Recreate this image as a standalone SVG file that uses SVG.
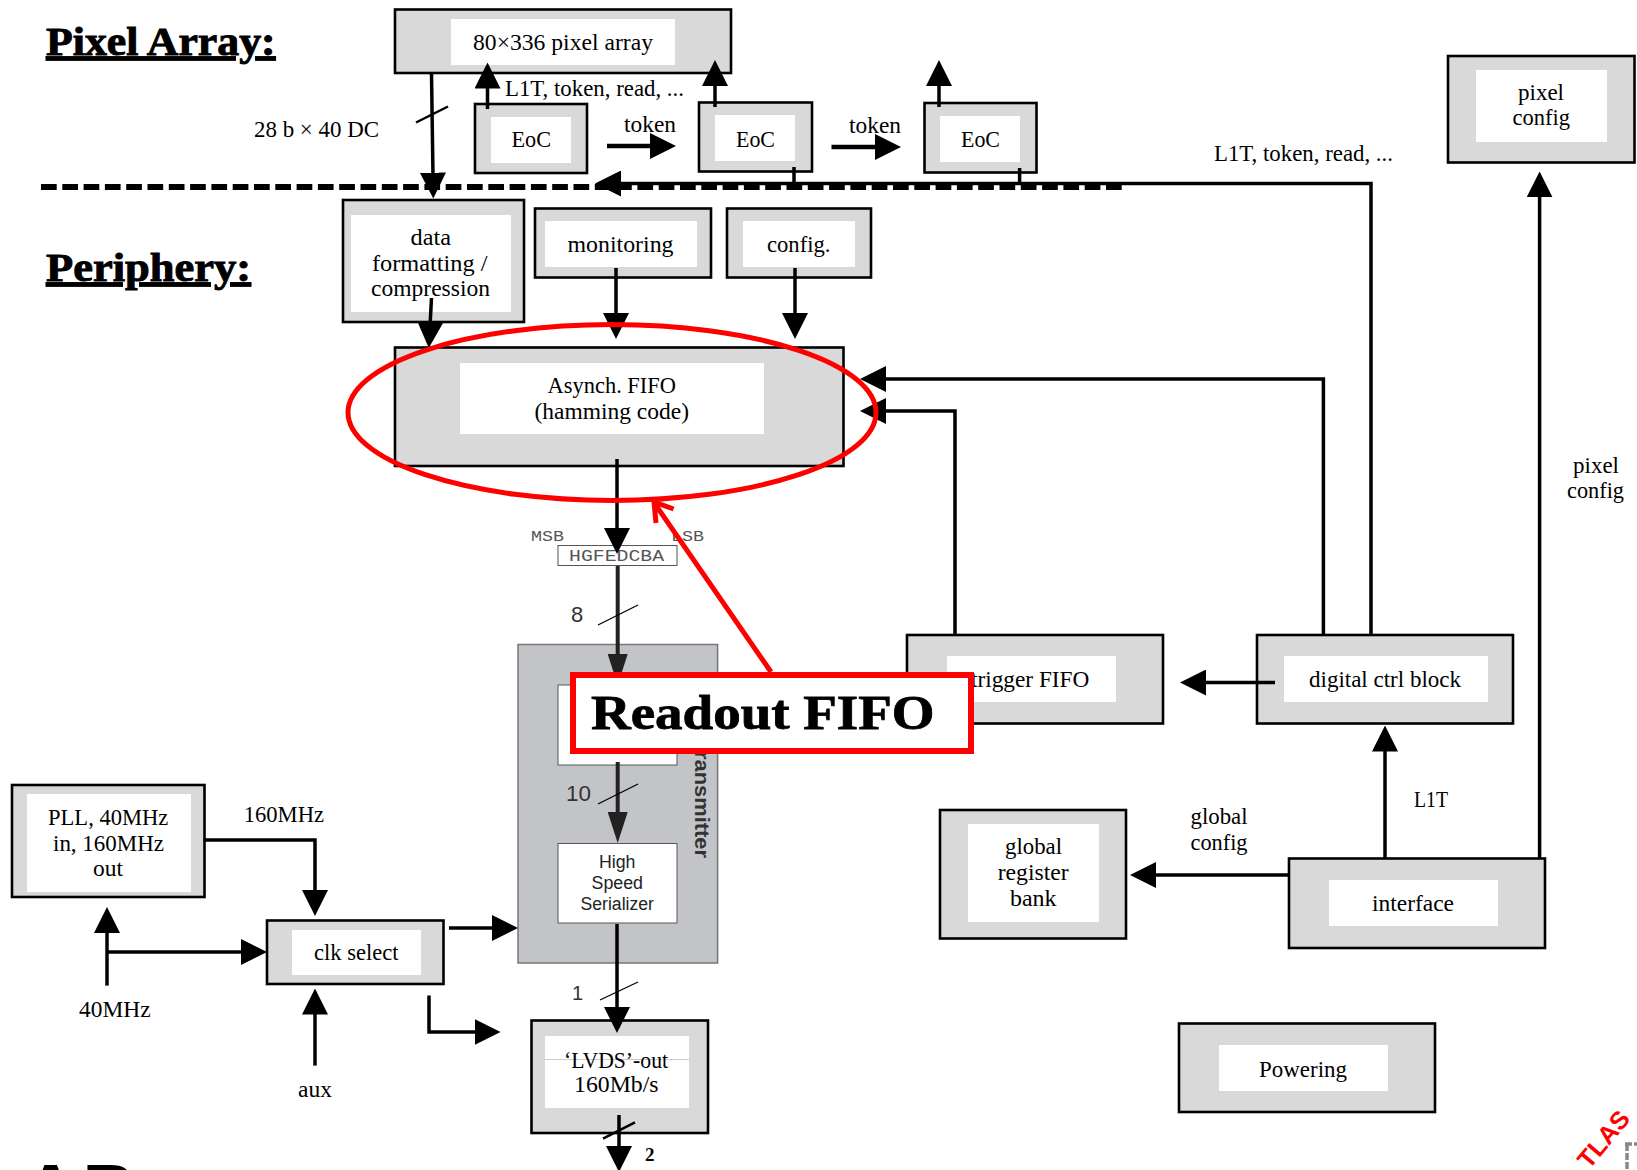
<svg xmlns="http://www.w3.org/2000/svg" width="1637" height="1170" viewBox="0 0 1637 1170">
<style>
.box{fill:#d9d9d9;stroke:#000;stroke-width:2.6}
.in{fill:#fff}
text{font-family:"Liberation Serif",serif;font-size:22.5px;fill:#000}
.h{font-weight:bold;font-size:39px;text-decoration:underline;stroke:#000;stroke-width:.9}
.sans{font-family:"Liberation Sans",sans-serif;font-size:18px;fill:#222}
.num{font-family:"Liberation Sans",sans-serif;font-size:22px;fill:#333}
.mono{font-family:"Liberation Mono",monospace;font-size:14px;fill:#555}
.c{fill:none;stroke:#000;stroke-width:3.5}
.a{marker-end:url(#ah)}
.n{stroke:#222;stroke-width:4;marker-end:url(#nh)}
.s{stroke:#000;stroke-width:1.3;fill:none}
.red{fill:none;stroke:#f00}
</style>
<defs>
<marker id="ah" markerUnits="userSpaceOnUse" viewBox="0 0 26 26" markerWidth="26" markerHeight="26" refX="4" refY="13" orient="auto"><path d="M0 0L26 13L0 26Z" fill="#000"/></marker>
<marker id="nh" markerUnits="userSpaceOnUse" viewBox="0 0 31 20" markerWidth="31" markerHeight="20" refX="4" refY="10" orient="auto"><path d="M0 0L31 10L0 20Z" fill="#222"/></marker>
</defs>
<rect width="1637" height="1170" fill="#fff"/>

<text class="h" x="46" y="54.5" textLength="229.6" lengthAdjust="spacingAndGlyphs">Pixel Array:</text>
<text class="h" x="46" y="280.5" textLength="205" lengthAdjust="spacingAndGlyphs">Periphery:</text>

<g id="transmitter">
<rect x="518" y="644.5" width="199.6" height="318.5" fill="#c2c4c8" stroke="#777" stroke-width="1.5"/>
<rect x="558" y="685" width="119" height="80" fill="#fff" stroke="#555" stroke-width="1"/>
<text transform="rotate(90 694.5 751)" x="694.5" y="751" style="font-family:'Liberation Sans',sans-serif;font-size:19.5px;font-weight:bold;fill:#333" textLength="107" lengthAdjust="spacingAndGlyphs">ransmitter</text>
</g>
<g id="serializer">
<rect x="558" y="843.5" width="119" height="79.5" fill="#fff" stroke="#555" stroke-width="1"/>
<text class="sans" x="599" y="868" textLength="36.5" lengthAdjust="spacingAndGlyphs">High</text>
<text class="sans" x="591.5" y="889" textLength="51.5" lengthAdjust="spacingAndGlyphs">Speed</text>
<text class="sans" x="580.5" y="910" textLength="73.5" lengthAdjust="spacingAndGlyphs">Serializer</text>
</g>

<g id="pixel-array"><rect class="box" x="395" y="9.5" width="336" height="63.5"/><rect class="in" x="451" y="19" width="224" height="46"/>
<text x="473" y="50" textLength="180" lengthAdjust="spacingAndGlyphs">80×336 pixel array</text></g>
<g id="eoc1"><rect class="box" x="475" y="104" width="112" height="69"/><rect class="in" x="491" y="117" width="80" height="46"/>
<text x="511.5" y="147" textLength="39.5" lengthAdjust="spacingAndGlyphs">EoC</text></g>
<g id="eoc2"><rect class="box" x="699" y="102.5" width="113" height="69"/><rect class="in" x="715" y="115" width="80" height="46"/>
<text x="736" y="146.5" textLength="39" lengthAdjust="spacingAndGlyphs">EoC</text></g>
<g id="eoc3"><rect class="box" x="924.5" y="103" width="112" height="69.5"/><rect class="in" x="940" y="116" width="80" height="46"/>
<text x="961" y="147" textLength="39" lengthAdjust="spacingAndGlyphs">EoC</text></g>
<g id="pixel-config"><rect class="box" x="1448" y="56" width="186.5" height="106.5"/><rect class="in" x="1476" y="70" width="131" height="72"/>
<text x="1518" y="100" textLength="46" lengthAdjust="spacingAndGlyphs">pixel</text>
<text x="1512.5" y="125" textLength="57.5" lengthAdjust="spacingAndGlyphs">config</text></g>
<g id="data-formatting"><rect class="box" x="343" y="200" width="181" height="122"/><rect class="in" x="351" y="215" width="160" height="97"/>
<text x="410.5" y="245" textLength="40.5" lengthAdjust="spacingAndGlyphs">data</text>
<text x="372" y="271" textLength="115.5" lengthAdjust="spacingAndGlyphs">formatting /</text>
<text x="371" y="296" textLength="119" lengthAdjust="spacingAndGlyphs">compression</text></g>
<g id="monitoring"><rect class="box" x="535" y="208.5" width="176" height="69"/><rect class="in" x="545" y="221" width="152" height="46"/>
<text x="567.5" y="251.5" textLength="106" lengthAdjust="spacingAndGlyphs">monitoring</text></g>
<g id="config"><rect class="box" x="727" y="208.5" width="144" height="69"/><rect class="in" x="743" y="221" width="112" height="46"/>
<text x="767" y="251.5" textLength="63.5" lengthAdjust="spacingAndGlyphs">config.</text></g>
<g id="asynch-fifo"><rect class="box" x="395" y="347.5" width="448.5" height="118.5"/><rect class="in" x="460" y="363" width="304" height="71"/>
<text x="547.6" y="393" textLength="128.4" lengthAdjust="spacingAndGlyphs">Asynch. FIFO</text>
<text x="534.5" y="419" textLength="154.5" lengthAdjust="spacingAndGlyphs">(hamming code)</text></g>
<g id="pll"><rect class="box" x="12" y="785" width="192.5" height="112"/><rect class="in" x="27" y="794" width="164" height="98"/>
<text x="48" y="825" textLength="120.4" lengthAdjust="spacingAndGlyphs">PLL, 40MHz</text>
<text x="53" y="850.5" textLength="111" lengthAdjust="spacingAndGlyphs">in, 160MHz</text>
<text x="93" y="876" textLength="30" lengthAdjust="spacingAndGlyphs">out</text></g>
<g id="clk-select"><rect class="box" x="267" y="920.5" width="176.5" height="63.5"/><rect class="in" x="292" y="930" width="129" height="45"/>
<text x="314" y="960" textLength="84.5" lengthAdjust="spacingAndGlyphs">clk select</text></g>
<g id="lvds"><rect class="box" x="531.5" y="1020.5" width="176.5" height="112.5"/><rect class="in" x="545" y="1036" width="144" height="72"/>
<path d="M545 1059.5H689" stroke="#ccc" stroke-width="1"/>
<text x="564" y="1067.5" textLength="104" lengthAdjust="spacingAndGlyphs">‘LVDS’-out</text>
<text x="574" y="1092" textLength="84.5" lengthAdjust="spacingAndGlyphs">160Mb/s</text></g>
<g id="trigger-fifo"><rect class="box" x="907" y="635" width="256" height="88.5"/><rect class="in" x="947" y="656" width="169" height="46"/>
<text x="971" y="687" textLength="118.4" lengthAdjust="spacingAndGlyphs">trigger FIFO</text></g>
<g id="digital-ctrl"><rect class="box" x="1257" y="635" width="256" height="88.5"/><rect class="in" x="1284" y="656" width="204" height="46"/>
<text x="1309" y="687" textLength="152" lengthAdjust="spacingAndGlyphs">digital ctrl block</text></g>
<g id="global-register"><rect class="box" x="940" y="810" width="186" height="128.5"/><rect class="in" x="968" y="824" width="131" height="98"/>
<text x="1005" y="854" textLength="57" lengthAdjust="spacingAndGlyphs">global</text>
<text x="997.7" y="880" textLength="71" lengthAdjust="spacingAndGlyphs">register</text>
<text x="1010" y="906" textLength="46.6" lengthAdjust="spacingAndGlyphs">bank</text></g>
<g id="interface"><rect class="box" x="1289" y="858.5" width="256" height="89.5"/><rect class="in" x="1329" y="880" width="169" height="46"/>
<text x="1372" y="911" textLength="82" lengthAdjust="spacingAndGlyphs">interface</text></g>
<g id="powering"><rect class="box" x="1179" y="1023.5" width="256" height="88.5"/><rect class="in" x="1219" y="1045" width="169" height="46"/>
<text x="1259" y="1076.5" textLength="88" lengthAdjust="spacingAndGlyphs">Powering</text></g>
<g id="hgfedcba"><rect x="558" y="545.5" width="119" height="20" fill="#fff" stroke="#555" stroke-width="1"/>
<text class="mono" x="569" y="561" style="font-size:16px" textLength="95" lengthAdjust="spacingAndGlyphs">HGFEDCBA</text></g>

<text x="254" y="137" textLength="125" lengthAdjust="spacingAndGlyphs">28 b × 40 DC</text>
<text x="505" y="96" textLength="179" lengthAdjust="spacingAndGlyphs">L1T, token, read, ...</text>
<text x="624" y="131.5" textLength="52" lengthAdjust="spacingAndGlyphs">token</text>
<text x="849" y="132.5" textLength="52" lengthAdjust="spacingAndGlyphs">token</text>
<text x="1214" y="161" textLength="179" lengthAdjust="spacingAndGlyphs">L1T, token, read, ...</text>
<text x="1573" y="473" textLength="46" lengthAdjust="spacingAndGlyphs">pixel</text>
<text x="1567" y="497.5" textLength="57" lengthAdjust="spacingAndGlyphs">config</text>
<text class="mono" x="531" y="541" textLength="33" lengthAdjust="spacingAndGlyphs">MSB</text>
<text class="mono" x="671" y="541" textLength="33" lengthAdjust="spacingAndGlyphs">LSB</text>
<text class="num" x="571" y="622">8</text>
<text class="num" x="566" y="801" textLength="25" lengthAdjust="spacingAndGlyphs">10</text>
<text class="num" x="572" y="1000" style="font-size:20px">1</text>
<text x="243.7" y="822" textLength="80.3" lengthAdjust="spacingAndGlyphs">160MHz</text>
<text x="79" y="1017" textLength="71.6" lengthAdjust="spacingAndGlyphs">40MHz</text>
<text x="298" y="1097" textLength="34" lengthAdjust="spacingAndGlyphs">aux</text>
<text x="645" y="1161" style="font-size:19px;font-weight:bold">2</text>
<text x="1190.5" y="824" textLength="57" lengthAdjust="spacingAndGlyphs">global</text>
<text x="1190.5" y="850" textLength="57" lengthAdjust="spacingAndGlyphs">config</text>
<text x="1414" y="807" textLength="34" lengthAdjust="spacingAndGlyphs">L1T</text>

<g id="connectors">
<path d="M41 187H1124" fill="none" stroke="#000" stroke-width="6" stroke-dasharray="15.7 5.6"/>
<path class="c a" d="M431.5 73L433 176.6"/>
<path class="c a" d="M487.5 109V84.5"/>
<path class="c a" d="M715 107V82"/>
<path class="c a" d="M939 107V82"/>
<path class="c a" style="stroke-width:4.5" d="M607 146H654"/>
<path class="c a" style="stroke-width:4.5" d="M831.5 147H879"/>
<path class="c a" d="M1371 634V183.5H617"/>
<path class="c" d="M794 167V183M1019.6 168V183"/>
<path class="c a" d="M431.5 298L430 326"/>
<path class="c a" d="M616 268V317"/>
<path class="c a" d="M795 268V317"/>
<path class="c a" d="M617 459V532"/>
<path class="c n" d="M617.7 566V658"/>
<path class="c n" d="M617.7 762V816"/>
<path class="c a" d="M617 924V1011"/>
<path class="c a" d="M619 1115V1150"/>
<path class="c a" d="M204.5 840H315V894"/>
<path class="c a" d="M107 985.6V929"/>
<path class="c a" d="M107 952H245"/>
<path class="c a" d="M449 928H496"/>
<path class="c a" d="M429 995.5V1032H478.5"/>
<path class="c a" d="M315 1065.6V1010.5"/>
<path class="c a" d="M1323.4 634V379H882"/>
<path class="c a" d="M955 634V411H882"/>
<path class="c a" d="M1539.6 858V193.4"/>
<path class="c a" d="M1275 682.5H1202"/>
<path class="c a" d="M1385 858V747.5"/>
<path class="c a" d="M1289 875H1152"/>
<path class="c" style="stroke-width:2.5" d="M416 122.5L448 106.5M603 1138.6L635 1122.4"/>
<path class="s" d="M598 625L638 605M598 804L638 784M600 1000L638 982"/>
</g>

<g id="readout-callout">
<ellipse class="red" cx="612" cy="412.5" rx="264" ry="88" stroke-width="5"/>
<path class="red" stroke-width="5" d="M771 672L655 504M656 523L654 502L673.6 509"/>
<rect x="573" y="675" width="398" height="76" fill="#fff" stroke="#f00" stroke-width="6"/>
<text x="591" y="728.5" style="font-size:49px;font-weight:bold;stroke:#000;stroke-width:.8" textLength="343.6" lengthAdjust="spacingAndGlyphs">Readout FIFO</text>
</g>

<g id="logo-fragment">
<path d="M1625 1144H1637M1627 1144V1170" fill="none" stroke="#888" stroke-width="3.5" stroke-dasharray="7 2"/>
<text transform="rotate(-50 1589 1170)" x="1589" y="1170" style="font-family:'Liberation Sans',sans-serif;font-size:25px;font-weight:bold;fill:#f00" textLength="66" lengthAdjust="spacingAndGlyphs">TLAS</text>
</g>
<text x="24" y="1216" style="font-family:'Liberation Sans',sans-serif;font-size:74px;font-weight:bold;letter-spacing:5px">AB</text>
</svg>
